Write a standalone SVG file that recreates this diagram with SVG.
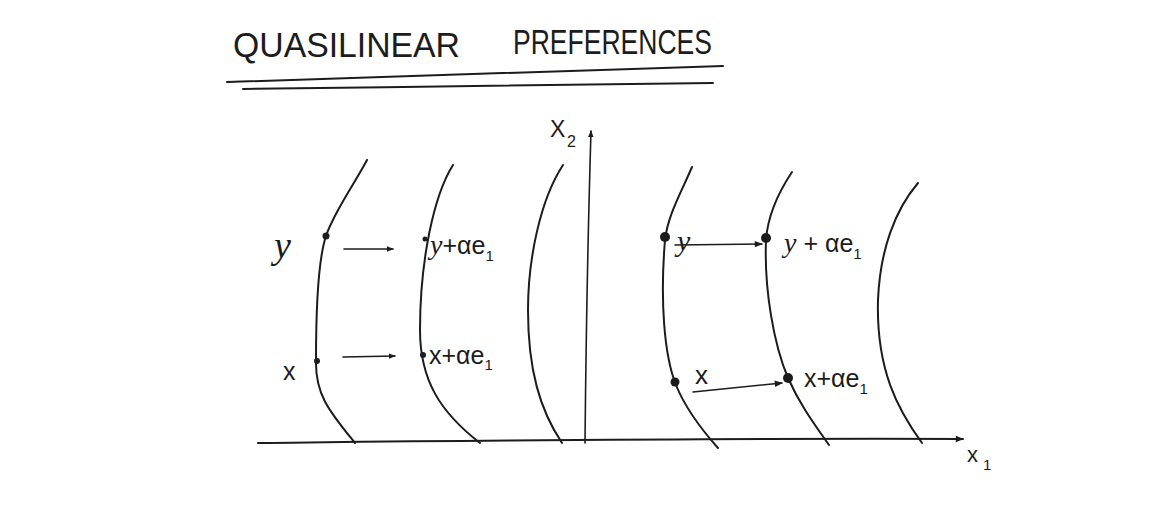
<svg xmlns="http://www.w3.org/2000/svg" width="1174" height="522" viewBox="0 0 1174 522">
<style>
.ln{fill:none;stroke:#1c1c1c;stroke-width:2;stroke-linecap:round;stroke-linejoin:round}
.thin{fill:none;stroke:#1c1c1c;stroke-width:1.6;stroke-linecap:round}
.t{font-family:"Liberation Sans",Arial,sans-serif;fill:#1c1c1c}
.m{font-family:"Liberation Serif","Times New Roman",serif;font-style:italic;fill:#1c1c1c}
.sub{font-family:"Liberation Sans",Arial,sans-serif;font-style:normal;font-size:15px;fill:#1c1c1c}
.dot{fill:#1c1c1c}
</style>
<defs>
<marker id="ah" viewBox="0 0 10 10" refX="9" refY="5" markerWidth="7" markerHeight="7" orient="auto" markerUnits="userSpaceOnUse">
<path d="M0,1 L10,5 L0,9 Z" fill="#1c1c1c"/>
</marker>
<marker id="ahb" viewBox="0 0 10 10" refX="9" refY="5" markerWidth="10" markerHeight="8" orient="auto" markerUnits="userSpaceOnUse">
<path d="M0,1 L10,5 L0,9 Z" fill="#1c1c1c"/>
</marker>
</defs>
<rect width="1174" height="522" fill="#ffffff"/>

<g id="title">
<text class="t" x="233" y="57" font-size="35" textLength="227" lengthAdjust="spacingAndGlyphs">QUASILINEAR</text>
<text class="t" x="513" y="54" font-size="35" textLength="199" lengthAdjust="spacingAndGlyphs">PREFERENCES</text>
<path class="ln" d="M227,82 C400,77 560,71 723,66"/>
<path class="ln" d="M243,89 C400,87 560,85 713,83"/>
</g>

<g id="axes">
<path class="ln" d="M258,443 C450,441 700,438 963,439" marker-end="url(#ahb)"/>
<path class="thin" d="M585,443 C586,340 588,230 591,131" marker-end="url(#ah)"/>
<text class="t" x="550" y="137" font-size="23">X</text>
<text class="t" x="567" y="147" font-size="16">2</text>
<text class="t" x="967" y="462" font-size="22">x</text>
<text class="t" x="983" y="470" font-size="15">1</text>
</g>

<g id="left-curves">
<path class="ln" d="M367,160 C352,188 334,212 326,236 C318,260 316,310 316,360 C315,395 330,412 355,443"/>
<path class="ln" d="M453,165 C434,195 420,260 420,330 C420,380 440,412 480,443"/>
<path class="ln" d="M563,165 C540,200 528,260 528,310 C528,370 540,410 562,443"/>
</g>

<g id="right-curves">
<path class="ln" d="M692,167 C680,195 668,215 665,240 C660,300 664,355 676,385 C686,410 702,430 718,448"/>
<path class="ln" d="M792,172 C780,190 768,212 766,240 C764,290 774,345 788,378 C800,405 815,425 829,445"/>
<path class="ln" d="M918,183 C895,210 880,250 878,300 C876,370 898,410 922,443"/>
</g>

<g id="left-points">
<circle class="dot" cx="326" cy="236" r="3.5"/>
<circle class="dot" cx="317" cy="361" r="3"/>
<circle class="dot" cx="425" cy="239" r="2.5"/>
<circle class="dot" cx="423" cy="355" r="3"/>
<text class="m" x="274" y="258" font-size="38">y</text>
<text class="t" x="283" y="380" font-size="25">x</text>
<text class="m" x="430" y="254" font-size="28">y<tspan class="t" font-style="normal" font-size="25">+αe</tspan><tspan class="sub" dy="7">1</tspan></text>
<text class="t" x="429" y="364" font-size="25">x+αe<tspan class="sub" dy="6">1</tspan></text>
</g>

<g id="right-points">
<circle class="dot" cx="665" cy="237" r="5"/>
<circle class="dot" cx="675" cy="382" r="4.5"/>
<circle class="dot" cx="766" cy="238" r="5"/>
<circle class="dot" cx="788" cy="378" r="5"/>
<text class="m" x="677" y="251" font-size="30">y</text>
<text class="t" x="695" y="384" font-size="26">x</text>
<text class="m" x="784" y="252" font-size="28">y<tspan class="t" font-style="normal" font-size="25"> + αe</tspan><tspan class="sub" dy="7">1</tspan></text>
<text class="t" x="804" y="387" font-size="25">x+αe<tspan class="sub" dy="7">1</tspan></text>
</g>

<g id="connectors">
<path class="thin" d="M344,249 L393,249" marker-end="url(#ah)"/>
<path class="thin" d="M343,357 L395,356" marker-end="url(#ah)"/>
<path class="thin" d="M675,245 L762,244" marker-end="url(#ahb)"/>
<path class="thin" d="M693,392 L782,383" marker-end="url(#ahb)"/>
</g>
</svg>
